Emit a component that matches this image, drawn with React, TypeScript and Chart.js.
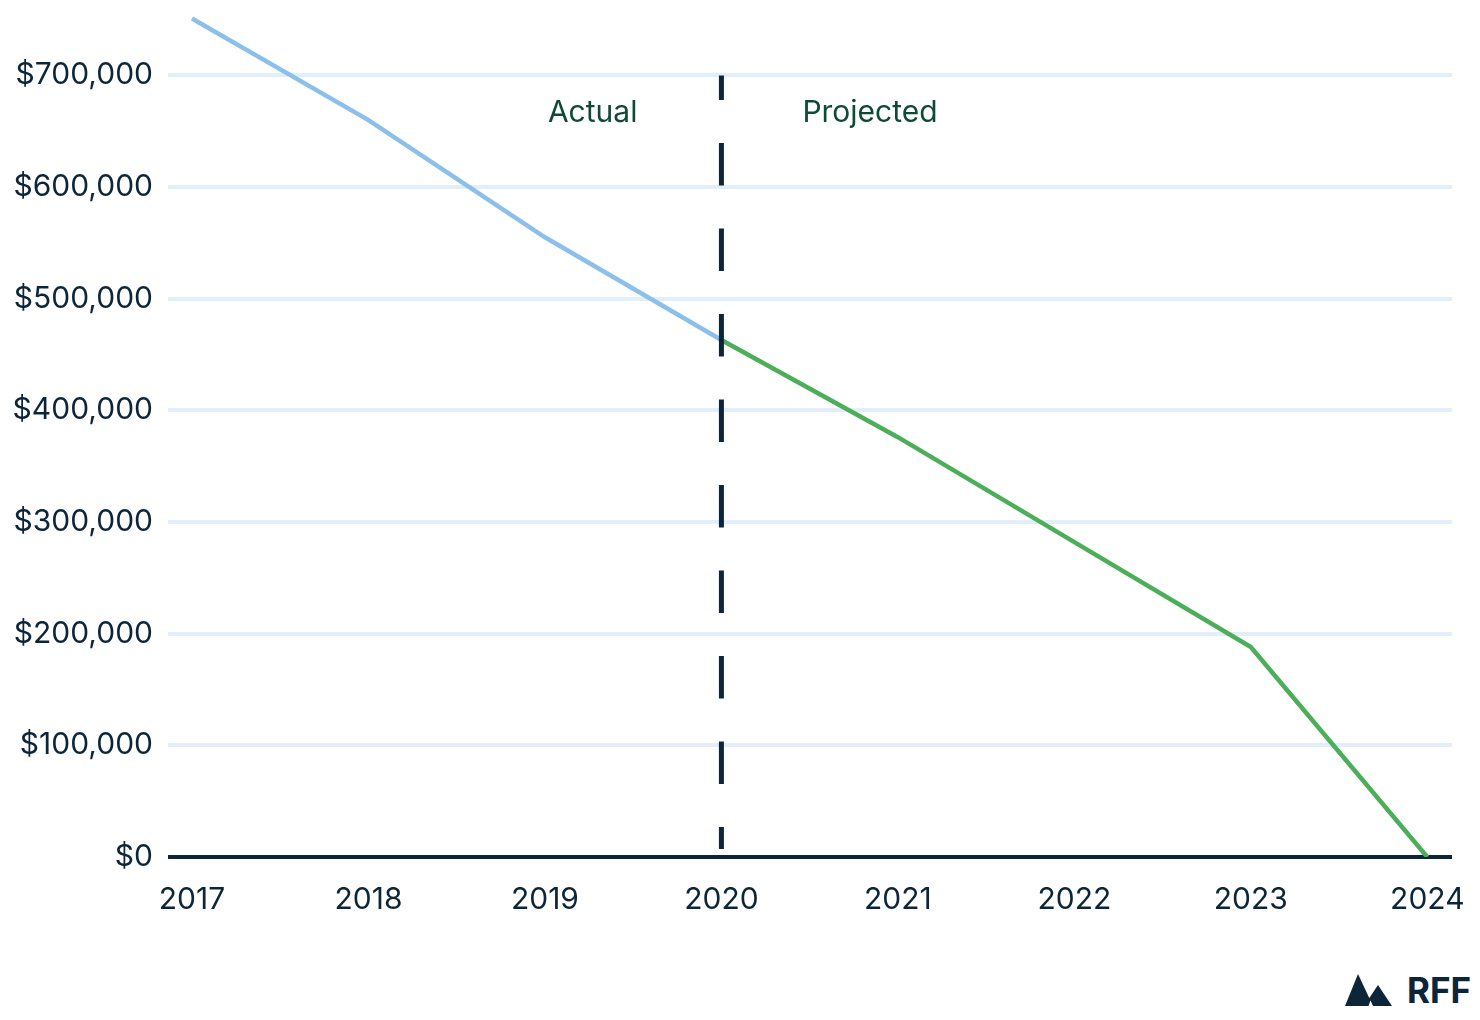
import React, { useEffect, useRef } from "react";
import { Chart, registerables } from "chart.js";

Chart.register(...registerables);

const years = [2017, 2018, 2019, 2020, 2021, 2022, 2023, 2024];
const actualYears = [2017, 2018, 2019, 2020];
const actualValues = [751000, 660000, 555000, 463000];
const projectedYears = [2020, 2021, 2022, 2023, 2024];
const projectedValues = [463000, 376000, 282000, 188000, 0];
const yTickValues = [0, 100000, 200000, 300000, 400000, 500000, 600000, 700000];
const dividerYear = 2020;
const leftLabel = "Actual";
const rightLabel = "Projected";

const NAVY = "#0c2538";
const GRID = "#e2eefa";
const BLUE = "#8cc0ea";
const GREEN = "#4cae58";
const DARK_GREEN = "#0e4a36";
const FONT = "Inter, 'Noto Sans', sans-serif";

const dividerPlugin = {
  id: "divider",
  afterDatasetsDraw(chart: any) {
    const { ctx, scales } = chart;
    const xs = scales.x;
    const ys = scales.y;
    const x = xs.getPixelForValue(dividerYear);
    const top = ys.getPixelForValue(yTickValues[yTickValues.length - 1]);
    const bottom = ys.getPixelForValue(0) - 8;
    ctx.save();
    ctx.strokeStyle = NAVY;
    ctx.lineWidth = 5;
    ctx.setLineDash([42.5, 43]);
    ctx.lineDashOffset = 18;
    ctx.beginPath();
    ctx.moveTo(x, top);
    ctx.lineTo(x, bottom);
    ctx.stroke();
    ctx.setLineDash([]);
    ctx.fillStyle = DARK_GREEN;
    ctx.font = `30px ${FONT}`;
    ctx.textBaseline = "middle";
    const ty = top + 38;
    ctx.textAlign = "right";
    ctx.fillText(leftLabel, x - 84, ty);
    ctx.textAlign = "left";
    ctx.fillText(rightLabel, x + 81, ty);
    ctx.restore();
  },
};

function formatMoney(v: number) {
  return "$" + Math.round(v).toLocaleString("en-US");
}

export default function App() {
  const ref = useRef<HTMLCanvasElement | null>(null);

  useEffect(() => {
    if (!ref.current) return;
    const chart = new Chart(ref.current, {
      type: "line",
      data: {
        datasets: [
          {
            label: "Actual",
            data: actualYears.map((x, i) => ({ x, y: actualValues[i] })),
            borderColor: BLUE,
            borderWidth: 4.5,
            pointRadius: 0,
            tension: 0,
          },
          {
            label: "Projected",
            data: projectedYears.map((x, i) => ({ x, y: projectedValues[i] })),
            borderColor: GREEN,
            borderWidth: 4.5,
            pointRadius: 0,
            tension: 0,
          },
        ],
      },
      options: {
        animation: false,
        responsive: false,
        maintainAspectRatio: false,
        layout: { padding: { top: 14, right: 28, left: 0, bottom: 0 } },
        plugins: {
          legend: { display: false },
          tooltip: { enabled: false },
        },
        scales: {
          x: {
            type: "linear",
            min: years[0] - 0.136,
            max: years[years.length - 1] + 0.14,
            grid: { display: false },
            border: { display: false },
            afterBuildTicks: (scale: any) => {
              scale.ticks = years.map((v) => ({ value: v }));
            },
            afterFit: (scale: any) => {
              scale.height = 103;
              scale.paddingLeft = 0;
              scale.paddingRight = 0;
            },
            ticks: {
              includeBounds: false,
              maxRotation: 0,
              autoSkip: false,
              padding: 17,
              color: NAVY,
              font: { family: FONT, size: 30 },
              callback: (v: any) => String(v),
            },
          },
          y: {
            type: "linear",
            min: 0,
            max: 755000,
            border: { display: false },
            grid: {
              drawTicks: false,
              lineWidth: 4,
              color: (c: any) => (c.tick && c.tick.value === 0 ? NAVY : GRID),
            },
            afterBuildTicks: (scale: any) => {
              scale.ticks = yTickValues.map((v) => ({ value: v }));
            },
            afterFit: (scale: any) => {
              scale.width = 168;
              scale.paddingTop = 0;
              scale.paddingBottom = 0;
            },
            ticks: {
              padding: 15,
              color: NAVY,
              font: { family: FONT, size: 30 },
              callback: (v: any) => formatMoney(Number(v)),
            },
          },
        },
      },
      plugins: [dividerPlugin],
    });
    return () => chart.destroy();
  }, []);

  return (
    <div
      style={{
        position: "fixed",
        left: 0,
        top: 0,
        width: 1480,
        height: 1020,
        background: "#ffffff",
        overflow: "hidden",
      }}
    >
      <canvas ref={ref} width={1480} height={960} style={{ display: "block", width: 1480, height: 960 }} />
      <div
        style={{
          position: "absolute",
          left: 1345,
          top: 972,
          display: "flex",
          alignItems: "center",
          gap: 14,
        }}
      >
        <svg width="48" height="34" viewBox="0 0 48 34">
          <polygon points="0,33 13,1 28,33" fill={NAVY} />
          <polygon points="19,33 33,12 47,33" fill={NAVY} />
          <polygon points="23.5,33 25.5,27.5 28,33" fill="#ffffff" />
        </svg>
        <span
          style={{
            fontFamily: FONT,
            fontWeight: 700,
            fontSize: 35,
            color: NAVY,
            lineHeight: "36px",
            letterSpacing: 0,
          }}
        >
          RFF
        </span>
      </div>
    </div>
  );
}
